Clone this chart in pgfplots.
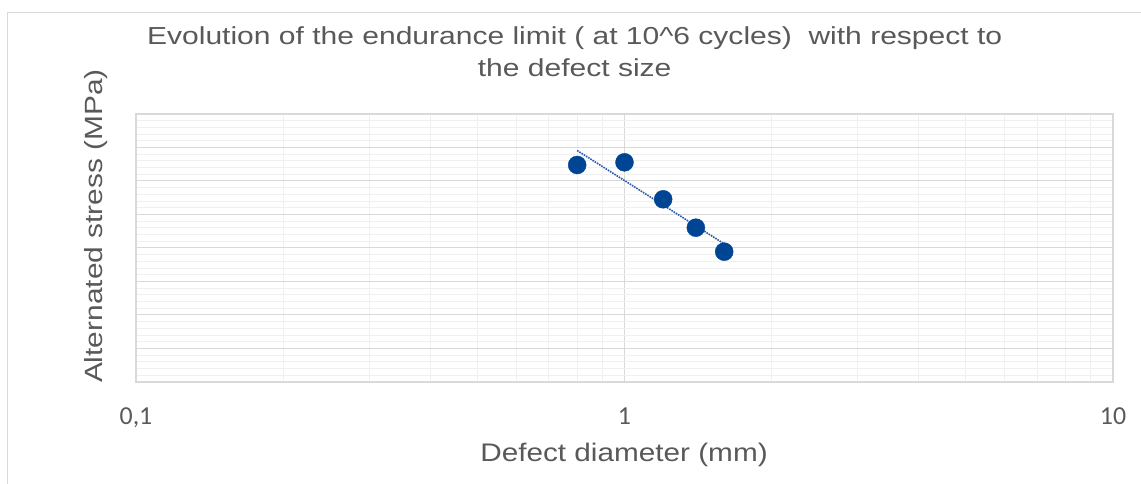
\documentclass[border=0pt]{standalone}
\usepackage{pgfplots}
\pgfplotsset{compat=1.18}
\usepackage{fontspec}
\setmainfont{Liberation Sans}
\newfontfamily\tickfont{Carlito}
\definecolor{txt}{HTML}{595959}
\definecolor{majgrid}{HTML}{D9D9D9}
\definecolor{mingrid}{HTML}{F0F0F0}
\definecolor{pt}{RGB}{0,68,148}
\definecolor{trend}{RGB}{40,90,170}
\begin{document}
\begin{tikzpicture}[x=1bp,y=1bp]
\useasboundingbox (-136,-102) rectangle (1005,382);
\draw[majgrid, line width=1bp] (-128,-102) -- (-128,369) -- (1005,369);
\begin{axis}[
  at={(0,0)}, anchor=south west,
  scale only axis, width=977bp, height=268bp,
  xmode=log, xmin=0.1, xmax=10,
  ymin=0, ymax=400,
  xtick={0.1,1,10}, xticklabels={{0,1},1,10},
  ytick={0,50,...,400}, yticklabels={},
  minor y tick num=4,
  grid=both,
  major grid style={majgrid, line width=1bp},
  minor grid style={mingrid, line width=1bp},
  axis line style={majgrid, line width=1.2bp},
  tick style={draw=none},
  major tick length=0pt, minor tick length=0pt,
  xticklabel style={font=\tickfont\fontsize{26}{30}\selectfont, text=txt, anchor=center, text height=16.5bp, text depth=0pt, yshift=-34bp},
  xlabel={\scalebox{1.17}[1]{Defect diameter (mm)}},
  ylabel={\scalebox{1.2}[1]{Alternated stress (MPa)}},
  xlabel style={at={(axis description cs:0.4995,-0.272)}, anchor=center, font=\fontsize{25.5}{30}\selectfont, text=txt},
  ylabel style={at={(axis description cs:-0.0409,0.582)}, anchor=center, rotate=0, font=\fontsize{25}{30}\selectfont, text=txt},
  title={\scalebox{1.22}[1]{Evolution of the endurance limit ( at 10\textasciicircum 6 cycles)\ \ with respect to}\\\scalebox{1.22}[1]{the defect size}},
  title style={at={(axis description cs:0.449,1.21)}, anchor=center, align=center, font=\fontsize{24.7}{32}\selectfont, text=txt},
  clip=false,
]
\addplot[trend, densely dotted, line width=1.6bp] coordinates {(0.8,345.5) (1.6,206.2)};
\addplot[only marks, mark=*, mark size=9bp, mark options={fill=pt, draw=pt}] coordinates {
(0.8,323.9) (1.0,327.9) (1.2,272.7) (1.4,230.3) (1.6,194.5)};
\end{axis}
\end{tikzpicture}
\end{document}
